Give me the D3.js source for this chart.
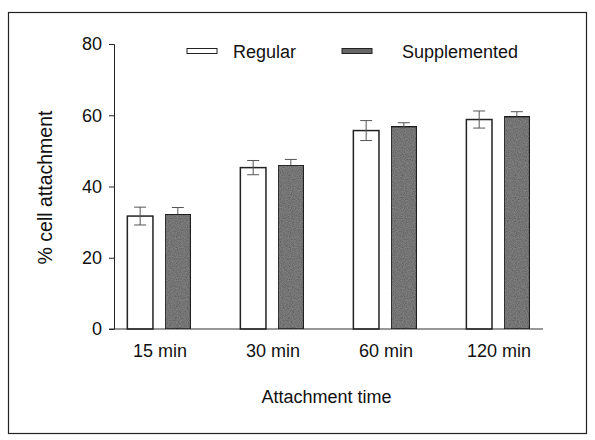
<!DOCTYPE html>
<meta charset="utf-8">
<style>
	body { margin: 0; background: #fff; }
	text { font-family: Arial, "Liberation Sans", sans-serif; fill: #111; }
</style>
<body></body>
<script src="https://d3js.org/d3.v7.min.js"></script>
<script>

	var categories = ["15 min", "30 min", "60 min", "120 min"];
	var seriesNames = ["Regular", "Supplemented"];
	var regular = [31.7, 45.3, 55.7, 58.8];
	var regularErr = [2.5, 2.0, 2.8, 2.4];
	var supplemented = [32.2, 46.0, 56.8, 59.6];
	var supplementedErr = [1.9, 1.6, 1.1, 1.4];
	var yTicks = [0, 20, 40, 60, 80];

	var W = 595, H = 440;
	var margin = {top: 44, right: 52, bottom: 111, left: 114};
	var width = W - margin.left - margin.right;
	var height = H - margin.top - margin.bottom;

	var svg = d3.select("body").append("svg")
		.attr("width", W)
		.attr("height", H);

	// grainy fill for the supplemented bars
	var defs = svg.append("defs");
	var filt = defs.append("filter").attr("id", "grain")
		.attr("x", 0).attr("y", 0).attr("width", 1).attr("height", 1);
	filt.append("feTurbulence")
		.attr("type", "fractalNoise")
		.attr("baseFrequency", 0.9)
		.attr("numOctaves", 2)
		.attr("seed", 3)
		.attr("result", "noise");
	filt.append("feColorMatrix")
		.attr("in", "noise")
		.attr("type", "matrix")
		.attr("values", "0 0 0 0 0  0 0 0 0 0  0 0 0 0 0  0 0 0 -0.9 0.6")
		.attr("result", "dots");
	filt.append("feComposite")
		.attr("in", "dots").attr("in2", "SourceGraphic")
		.attr("operator", "atop");

	// outer frame
	svg.append("rect")
		.attr("x", 8.5).attr("y", 12.5)
		.attr("width", 578).attr("height", 421)
		.attr("fill", "none")
		.attr("stroke", "#222")
		.attr("stroke-width", 1.2);

	var g = svg.append("g")
		.attr("transform", "translate(" + margin.left + "," + margin.top + ")");

	var x0 = d3.scaleBand()
		.domain(categories)
		.range([0, width])
		.paddingInner(0.44)
		.paddingOuter(0.118);

	var x1 = d3.scaleBand()
		.domain(seriesNames)
		.range([0, x0.bandwidth()])
		.paddingInner(0.32);

	var y = d3.scaleLinear()
		.domain([0, 80])
		.range([height, 0]);

	// y axis
	var yAxis = g.append("g")
		.call(d3.axisLeft(y).tickValues(yTicks).tickSize(5).tickPadding(7));
	yAxis.select(".domain").attr("stroke", "#222");
	yAxis.selectAll(".tick line").attr("stroke", "#222");
	yAxis.selectAll("text")
		.attr("font-size", "18px")
		.attr("font-family", "Arial, 'Liberation Sans', sans-serif")
		.attr("fill", "#111");

	// x baseline
	g.append("line")
		.attr("x1", -5).attr("x2", width)
		.attr("y1", y(0)).attr("y2", y(0))
		.attr("stroke", "#333")
		.attr("stroke-width", 1.2);

	var data = categories.map(function(c, i) {
		return [
			{cat: c, s: "Regular", v: regular[i], e: regularErr[i]},
			{cat: c, s: "Supplemented", v: supplemented[i], e: supplementedErr[i]}
		];
	});

	var groups = g.selectAll(".grp")
		.data(data)
		.enter().append("g")
		.attr("class", "grp")
		.attr("transform", function(d, i) { return "translate(" + x0(categories[i]) + ",0)"; });

	groups.selectAll(".bar")
		.data(function(d) { return d; })
		.enter().append("rect")
		.attr("class", "bar")
		.attr("x", function(d) { return x1(d.s); })
		.attr("y", function(d) { return y(d.v); })
		.attr("width", x1.bandwidth())
		.attr("height", function(d) { return y(0) - y(d.v); })
		.attr("fill", function(d) { return d.s === "Regular" ? "none" : "#7e7e7e"; })
		.attr("filter", function(d) { return d.s === "Regular" ? null : "url(#grain)"; })
		.attr("stroke", "#222")
		.attr("stroke-width", 1.5);

	// error bars: full for open bars, upper half only for dark bars
	groups.selectAll(".err")
		.data(function(d) { return d; })
		.enter().append("path")
		.attr("class", "err")
		.attr("fill", "none")
		.attr("stroke", "#555")
		.attr("stroke-width", 1)
		.attr("d", function(d) {
			var cx = x1(d.s) + x1.bandwidth() / 2;
			var t = y(d.v + d.e), b = y(d.v - d.e);
			if (d.s === "Regular") {
				return "M" + (cx - 6) + "," + t + "H" + (cx + 6) +
					"M" + cx + "," + t + "V" + b +
					"M" + (cx - 6) + "," + b + "H" + (cx + 6);
			}
			return "M" + (cx - 6) + "," + t + "H" + (cx + 6) +
				"M" + cx + "," + t + "V" + y(d.v);
		});

	// category labels
	g.selectAll(".cat")
		.data(categories)
		.enter().append("text")
		.attr("class", "cat")
		.attr("x", function(d) { return x0(d) + x0.bandwidth() / 2 + 1; })
		.attr("y", height + 28)
		.attr("text-anchor", "middle")
		.attr("font-size", "18px")
		.text(function(d) { return d; });

	// axis titles
	g.append("text")
		.attr("x", width / 2 - 2)
		.attr("y", height + 74)
		.attr("text-anchor", "middle")
		.attr("font-size", "18px")
		.text("Attachment time");

	g.append("text")
		.attr("transform", "translate(-62," + (height / 2 + 1) + ") rotate(-90)")
		.attr("text-anchor", "middle")
		.attr("font-size", "19.5px")
		.text("% cell attachment");

	// legend
	var legend = svg.append("g");
	var legX = [187, 342];
	var legTextX = [233, 402];
	seriesNames.forEach(function(s, i) {
		legend.append("rect")
			.attr("x", legX[i]).attr("y", 48.5)
			.attr("width", 30).attr("height", 5)
			.attr("fill", i === 0 ? "#fff" : "#666")
			.attr("stroke", "#222")
			.attr("stroke-width", 1);
		legend.append("text")
			.attr("x", legTextX[i])
			.attr("y", 58)
			.attr("font-size", "18px")
			.text(s);
	});

</script>
